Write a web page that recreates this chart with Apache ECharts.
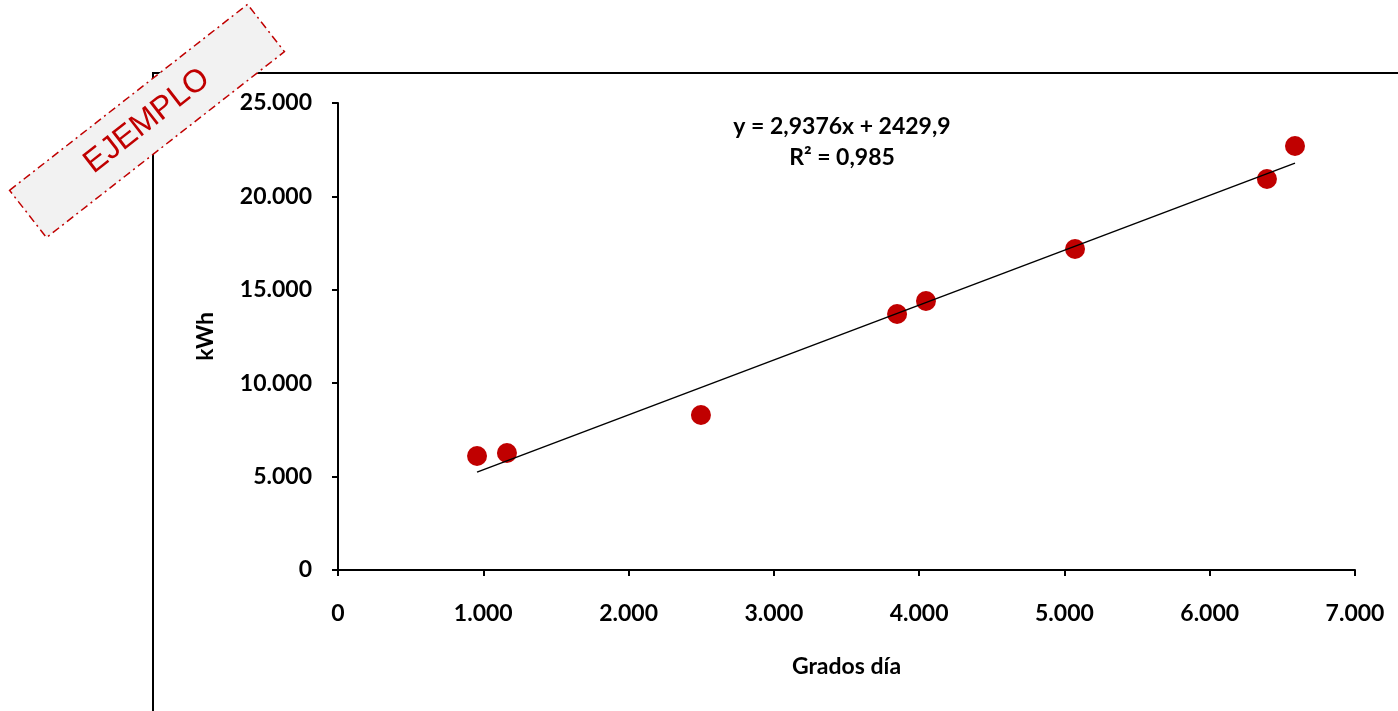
<!DOCTYPE html>
<html>
<head>
<meta charset="utf-8">
<script src="https://cdn.jsdelivr.net/npm/echarts@6/dist/echarts.min.js"></script>
<style>
html,body{margin:0;padding:0;background:#fff;}
#chart{width:1398px;height:711px;}
</style>
</head>
<body>
<div id="chart"></div>
<script>
// Data
var gradosDia = [957, 1163, 2498, 3848, 4047, 5073, 6394, 6587];
var kWh = [6103, 6263, 8298, 13704, 14400, 17184, 20931, 22698];
var trendSlope = 2.9376;
var trendIntercept = 2429.9;
var equationText = 'y = 2,9376x + 2429,9';
var r2Text = 'R² = 0,985';
var xTicks = [0, 1000, 2000, 3000, 4000, 5000, 6000, 7000];
var yTicks = [0, 5000, 10000, 15000, 20000, 25000];
var xName = 'Grados día';
var yName = 'kWh';
var stampText = 'EJEMPLO';

function fmt(v){
  var s = String(Math.round(v));
  return s.replace(/\B(?=(\d{3})+(?!\d))/g, '.');
}

var points = gradosDia.map(function(x, i){ return [x, kWh[i]]; });
var xMinD = Math.min.apply(null, gradosDia);
var xMaxD = Math.max.apply(null, gradosDia);
var trend = [[xMinD, trendSlope * xMinD + trendIntercept], [xMaxD, trendSlope * xMaxD + trendIntercept]];

var FONT = 'Lato';
var chart = echarts.init(document.getElementById('chart'), null, {renderer: 'canvas'});
var axisCommon = {
  axisLine: {show: true, lineStyle: {color: '#000', width: 2}},
  axisTick: {show: true, inside: false, length: 6, lineStyle: {color: '#000', width: 2}},
  splitLine: {show: false},
  axisLabel: {color: '#000', fontFamily: FONT, fontWeight: 'bold', fontSize: 23, formatter: fmt},
  nameTextStyle: {color: '#000', fontFamily: FONT, fontWeight: 'bold', fontSize: 23}
};
chart.setOption({
  animation: false,
  backgroundColor: '#fff',
  grid: {left: 338, right: 43, top: 103, bottom: 141, containLabel: false},
  xAxis: Object.assign({}, axisCommon, {
    type: 'value', min: xTicks[0], max: xTicks[xTicks.length - 1], interval: xTicks[1] - xTicks[0],
    name: xName, nameLocation: 'middle', nameGap: 85,
    axisLabel: Object.assign({}, axisCommon.axisLabel, {margin: 32})
  }),
  yAxis: Object.assign({}, axisCommon, {
    type: 'value', min: yTicks[0], max: yTicks[yTicks.length - 1], interval: yTicks[1] - yTicks[0],
    name: yName, nameLocation: 'middle', nameGap: 121,
    axisLabel: Object.assign({}, axisCommon.axisLabel, {margin: 26})
  }),
  series: [
    {type: 'line', data: trend, showSymbol: false, symbol: 'none', lineStyle: {color: '#000', width: 1.5}, z: 3, silent: true},
    {type: 'scatter', data: points, symbol: 'circle', symbolSize: 20, itemStyle: {color: '#C00000', opacity: 1}, z: 2}
  ],
  graphic: [
    {type: 'line', shape: {x1: 152, y1: 73, x2: 1398, y2: 73}, style: {stroke: '#000', lineWidth: 2}, z: 1},
    {type: 'line', shape: {x1: 153, y1: 73, x2: 153, y2: 711}, style: {stroke: '#000', lineWidth: 2}, z: 1},
    {type: 'text', x: 842, y: 127, style: {text: equationText, fill: '#000', font: 'bold 23px Lato', textAlign: 'center', textVerticalAlign: 'middle'}, z: 5},
    {type: 'text', x: 842, y: 158, style: {text: r2Text, fill: '#000', font: 'bold 23px Lato', textAlign: 'center', textVerticalAlign: 'middle'}, z: 5},
    {type: 'group', x: 147, y: 121, rotation: 38 * Math.PI / 180, z: 100, children: [
      {type: 'rect', shape: {x: -151, y: -30, width: 302, height: 60}, style: {fill: '#f2f2f2', stroke: '#C00000', lineWidth: 1.5, lineDash: [8, 4, 2, 4]}, z: 100},
      {type: 'text', x: 0, y: 0, style: {text: stampText, fill: '#C00000', font: '32px "Liberation Sans"', textAlign: 'center', textVerticalAlign: 'middle'}, z: 101}
    ]}
  ]
});
</script>
</body>
</html>
